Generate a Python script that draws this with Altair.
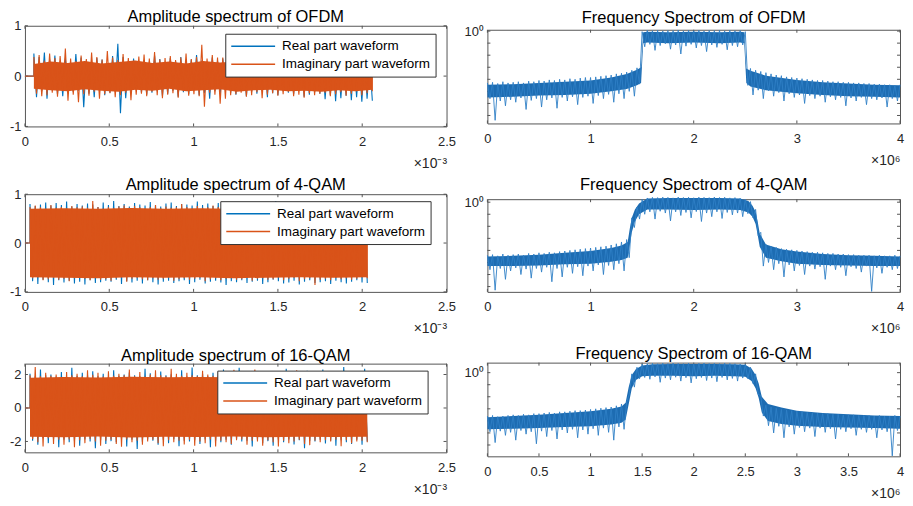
import numpy as np
import pandas as pd
import altair as alt

FONT = "Liberation Sans"
BLUE = "#0072BD"
ORANGE = "#D95319"
BAND = "#1d6cb2"
SPIKE = "#2f80c6"
FRAME = "#555555"
TXT = "#262626"
SERIES = ["Real part waveform", "Imaginary part waveform"]

# ---------------- left column: time waveforms (time in units of 1e-3 s) ----------------
T_TICKS = [0, 0.5, 1, 1.5, 2, 2.5]

ofdm_span = [0.053, 2.06]
ofdm_tail = 2.12
ofdm_real = [
    0.45, -0.42, 0.38, -0.30, 0.47, -0.45, 0.33, -0.28, 0.41, -0.36,
    0.29, -0.40, 0.35, -0.33, 0.26, -0.31, 0.44, -0.29, 0.37, -0.62,
    0.31, -0.35, 0.28, -0.42, 0.36, -0.27, 0.33, -0.38, 0.25, -0.33,
    0.40, -0.30, 0.64, -0.74, 0.38, -0.44, 0.27, -0.31, 0.35, -0.28,
    0.30, -0.33, 0.32, -0.37, 0.29, -0.33, 0.41, -0.30, 0.34, -0.39,
    0.27, -0.35, 0.36, -0.29, 0.30, -0.41, 0.38, -0.32, 0.28, -0.36,
    0.33, -0.27, 0.42, -0.38, 0.31, -0.34, 0.26, -0.45, 0.37, -0.30,
    0.30, -0.36, 0.35, -0.28, 0.29, -0.33, 0.39, -0.37, 0.32, -0.29,
    0.28, -0.40, 0.34, -0.31, 0.37, -0.35, 0.30, -0.29, 0.33, -0.42,
    0.36, -0.34, 0.29, -0.38, 0.31, -0.30, 0.43, -0.33, 0.27, -0.36,
    0.32, -0.29, 0.35, -0.41, 0.30, -0.37, 0.28, -0.32, 0.38, -0.35,
    0.34, -0.46, 0.29, -0.38, 0.36, -0.50, 0.31, -0.44, 0.30, -0.39,
    0.35, -0.48, 0.33, -0.42, 0.29, -0.51, 0.37, -0.45, 0.32, -0.49,
]
ofdm_imag = [
    0.38, -0.35, 0.42, -0.40, 0.31, -0.38, 0.45, -0.33, 0.36, -0.41,
    0.40, -0.30, 0.55, -0.49, 0.35, -0.37, 0.30, -0.52, 0.41, -0.36,
    0.34, -0.39, 0.47, -0.31, 0.38, -0.45, 0.33, -0.36, 0.50, -0.34,
    0.37, -0.42, 0.32, -0.38, 0.44, -0.33, 0.36, -0.48, 0.31, -0.37,
    0.39, -0.35, 0.43, -0.40, 0.35, -0.31, 0.48, -0.38, 0.33, -0.44,
    0.36, -0.37, 0.40, -0.34, 0.32, -0.43, 0.37, -0.30, 0.45, -0.39,
    0.34, -0.36, 0.38, -0.40, 0.62, -0.61, 0.35, -0.33, 0.42, -0.37,
    0.37, -0.55, 0.37, -0.45, 0.52, -0.38, 0.34, -0.36, 0.40, -0.33,
    0.35, -0.41, 0.33, -0.38, 0.39, -0.32, 0.36, -0.44, 0.31, -0.37,
    0.38, -0.34, 0.42, -0.39, 0.33, -0.36, 0.37, -0.31, 0.35, -0.40,
    0.32, -0.37, 0.36, -0.43, 0.39, -0.34, 0.31, -0.38, 0.34, -0.35,
    0.37, -0.33, 0.30, -0.40, 0.35, -0.36, 0.38, -0.32, 0.33, -0.39,
    0.31, -0.35, 0.36, -0.30, 0.34, -0.38, 0.30, -0.34, 0.32, -0.30,
]
ofdm_core_hi = [0.24, 0.29, 0.26, 0.30, 0.25, 0.28, 0.31, 0.26, 0.29, 0.25, 0.30, 0.27, 0.29, 0.25, 0.28, 0.26, 0.30, 0.27, 0.25, 0.28, 0.24]
ofdm_core_lo = [-0.25, -0.28, -0.30, -0.26, -0.29, -0.31, -0.27, -0.29, -0.25, -0.30, -0.28, -0.26, -0.31, -0.28, -0.27, -0.30, -0.29, -0.31, -0.28, -0.30, -0.27]

qam4_span = [0.03, 2.03]
qam4_tail = 2.05
qam4_real = [
    0.80, -0.78, 0.76, -0.84, 0.79, -0.75, 0.83, -0.80, 0.77, -0.86,
    0.82, -0.76, 0.78, -0.81, 0.85, -0.77, 0.75, -0.83, 0.80, -0.79,
    0.77, -0.85, 0.81, -0.76, 0.79, -0.82, 0.74, -0.80, 0.83, -0.77,
    0.78, -0.79, 0.86, -0.75, 0.76, -0.84, 0.80, -0.78, 0.75, -0.81,
    0.82, -0.77, 0.79, -0.83, 0.77, -0.76, 0.84, -0.80, 0.78, -0.85,
    0.75, -0.79, 0.81, -0.77, 0.83, -0.82, 0.76, -0.78, 0.80, -0.76,
    0.79, -0.84, 0.77, -0.80, 0.85, -0.75, 0.78, -0.83, 0.81, -0.79,
    0.76, -0.77, 0.82, -0.81, 0.79, -0.86, 0.75, -0.78, 0.84, -0.80,
    0.80, -0.76, 0.77, -0.82, 0.78, -0.79, 0.83, -0.77, 0.76, -0.84,
    0.81, -0.80, 0.79, -0.75, 0.86, -0.78, 0.77, -0.83, 0.80, -0.81,
    0.78, -0.77, 0.75, -0.85, 0.82, -0.79, 0.80, -0.76, 0.77, -0.82,
    0.83, -0.80, 0.79, -0.78, 0.76, -0.84, 0.81, -0.77, 0.78, -0.80,
    0.77, -0.83, 0.80, -0.79, 0.84, -0.76, 0.78, -0.81, 0.79, -0.82,
]
qam4_imag = [
    0.74, -0.72, 0.77, -0.70, 0.73, -0.76, 0.70, -0.74, 0.78, -0.71,
    0.72, -0.75, 0.74, -0.73, 0.71, -0.78, 0.76, -0.72, 0.73, -0.70,
    0.75, -0.73, 0.72, -0.76, 0.86, -0.71, 0.74, -0.75, 0.70, -0.74,
    0.73, -0.77, 0.71, -0.72, 0.75, -0.70, 0.77, -0.79, 0.72, -0.73,
    0.76, -0.71, 0.73, -0.74, 0.70, -0.76, 0.74, -0.72, 0.78, -0.75,
    0.71, -0.73, 0.75, -0.70, 0.72, -0.77, 0.73, -0.74, 0.80, -0.72,
    0.74, -0.75, 0.70, -0.73, 0.76, -0.71, 0.72, -0.78, 0.73, -0.74,
    0.77, -0.72, 0.74, -0.76, 0.71, -0.73, 0.75, -0.70, 0.72, -0.75,
    0.73, -0.74, 0.78, -0.71, 0.74, -0.77, 0.70, -0.73, 0.76, -0.72,
    0.72, -0.75, 0.71, -0.74, 0.73, -0.70, 0.75, -0.76, 0.74, -0.73,
    0.76, -0.71, 0.73, -0.78, 0.70, -0.74, 0.77, -0.72, 0.84, -0.86,
    0.71, -0.75, 0.74, -0.73, 0.72, -0.76, 0.75, -0.71, 0.73, -0.74,
    0.74, -0.72, 0.71, -0.75, 0.76, -0.73, 0.72, -0.70, 0.75, -0.72,
]
qam4_core_hi = [0.70, 0.71, 0.70, 0.72, 0.70, 0.71, 0.70, 0.71, 0.72, 0.70, 0.70]
qam4_core_lo = [-0.70, -0.71, -0.72, -0.70, -0.71, -0.70, -0.72, -0.71, -0.70, -0.71, -0.70]

qam16_span = [0.03, 2.03]
qam16_real = [
    2.05, -1.95, 1.90, -2.20, 2.30, -1.80, 1.95, -2.10, 2.00, -1.85,
    1.88, -2.35, 2.15, -1.90, 1.85, -2.05, 2.40, -1.95, 1.92, -2.25,
    2.10, -1.88, 1.95, -2.00, 2.20, -2.40, 1.90, -1.92, 2.05, -2.15,
    1.87, -1.98, 2.25, -2.05, 1.93, -1.85, 2.00, -2.30, 2.12, -1.90,
    1.95, -2.45, 1.90, -2.02, 2.35, -1.88, 2.08, -1.95, 1.92, -2.20,
    2.18, -1.90, 1.96, -2.10, 2.02, -1.86, 1.90, -2.28, 2.25, -1.95,
    1.88, -2.00, 2.42, -1.92, 1.95, -2.15, 2.05, -1.88, 1.90, -2.35,
    2.10, -1.95, 1.93, -2.05, 2.30, -1.90, 1.98, -2.20, 1.92, -1.87,
    2.40, -2.00, 1.90, -1.95, 2.05, -2.30, 1.95, -1.90, 2.20, -2.10,
    1.88, -1.98, 2.15, -2.25, 1.92, -1.90, 2.00, -2.05, 2.35, -1.88,
    1.95, -2.18, 2.08, -1.93, 1.90, -2.40, 2.22, -1.95, 1.97, -2.00,
    2.02, -1.90, 2.30, -2.12, 1.88, -1.96, 2.10, -2.25, 1.94, -1.92,
    2.45, -2.05, 1.95, -2.15, 2.05, -1.90, 1.92, -2.20, 2.35, -2.00,
]
qam16_imag = [
    1.95, -1.85, 2.45, -2.05, 1.90, -2.30, 2.10, -1.80, 1.92, -2.15,
    2.00, -1.90, 1.85, -2.20, 2.15, -1.88, 1.95, -2.35, 2.05, -1.92,
    1.90, -2.10, 2.25, -1.85, 1.98, -2.00, 2.10, -2.25, 1.88, -1.95,
    2.20, -1.90, 1.92, -2.15, 2.05, -2.32, 1.95, -1.88, 2.30, -2.05,
    1.90, -1.95, 2.15, -2.20, 1.88, -2.00, 2.00, -1.90, 2.25, -2.10,
    1.95, -2.28, 1.90, -1.92, 2.35, -2.05, 2.05, -1.95, 1.92, -2.18,
    2.10, -1.90, 1.95, -2.25, 1.90, -2.00, 2.22, -2.10, 2.00, -1.88,
    1.92, -2.30, 2.15, -1.95, 1.98, -2.05, 1.90, -2.15, 2.28, -1.92,
    2.02, -1.88, 2.00, -2.20, 1.93, -1.95, 2.30, -2.00, 1.90, -2.25,
    2.20, -1.92, 1.95, -2.05, 2.08, -2.30, 1.90, -1.95, 2.00, -2.10,
    1.92, -2.00, 2.25, -1.90, 2.05, -2.15, 1.95, -2.22, 1.90, -1.95,
    2.10, -2.05, 1.93, -1.92, 2.20, -2.00, 2.00, -1.90, 2.15, -2.28,
    1.95, -1.92, 2.05, -2.10, 1.90, -2.00, 2.18, -1.95, 1.92, -2.05,
]
qam16_core_hi = [1.80, 1.85, 1.82, 1.86, 1.83, 1.85, 1.84, 1.86, 1.82, 1.85, 1.80]
qam16_core_lo = [-1.72, -1.75, -1.70, -1.76, -1.72, -1.74, -1.71, -1.75, -1.72, -1.74, -1.72]

# ---------------- right column: spectra (frequency in units of 1e6 Hz, magnitude as log10) ----------------
ofdm_env_f = [0.0, 0.25, 0.5, 0.75, 1.0, 1.2, 1.35, 1.45, 1.49, 1.51, 1.55, 1.75,
              2.0, 2.25, 2.45, 2.49, 2.51, 2.55, 2.7, 3.0, 3.25, 3.5, 3.75, 4.0]
ofdm_env_hi = [-4.45, -4.4, -4.3, -4.2, -4.1, -3.85, -3.55, -3.2, -3.0, -0.1, -0.05, -0.1,
               -0.05, -0.1, -0.05, -0.1, -3.1, -3.3, -3.7, -4.05, -4.25, -4.35, -4.45, -4.5]
ofdm_env_lo = [-5.5, -5.45, -5.35, -5.3, -5.2, -5.0, -4.8, -4.5, -4.3, -1.0, -0.95, -1.0,
               -0.95, -1.0, -0.95, -1.0, -4.3, -4.6, -4.9, -5.15, -5.3, -5.4, -5.45, -5.5]
ofdm_spec = [
    -4.30, -5.60, -4.25, -7.40, -4.35, -5.80, -4.20, -6.20, -4.30, -5.70,
    -4.25, -5.90, -4.20, -5.55, -4.30, -6.50, -4.15, -5.75, -4.20, -5.60,
    -4.10, -6.30, -4.15, -5.70, -4.05, -5.55, -4.10, -6.40, -4.00, -5.50,
    -4.05, -5.80, -3.95, -5.45, -4.00, -6.10, -3.90, -5.50, -3.85, -5.40,
    -3.85, -6.00, -3.80, -5.35, -3.75, -5.60, -3.70, -5.25, -3.65, -5.90,
    -3.55, -5.20, -3.50, -5.60, -3.40, -5.00, -3.25, -5.40, -3.05, -4.40,
    -0.05, -1.30, 0.05, -1.10, 0.02, -1.60, 0.06, -1.20, 0.00, -1.05,
    0.04, -1.50, 0.03, -1.15, 0.07, -1.90, 0.01, -1.25, 0.05, -1.10,
    0.02, -1.40, 0.06, -1.20, 0.00, -1.70, 0.04, -1.15, 0.03, -1.35,
    0.05, -1.10, 0.01, -1.55, 0.06, -1.20, 0.02, -1.30, 0.04, -1.15, -0.05,
    -4.50, -3.10, -5.30, -3.25, -4.90, -3.35, -5.60, -3.45, -4.95, -3.55,
    -5.40, -3.65, -5.10, -3.70, -5.80, -3.80, -5.20, -3.85, -5.50, -3.90,
    -5.30, -3.95, -6.00, -4.00, -5.35, -4.05, -5.60, -4.10, -5.40, -4.10,
    -5.90, -4.15, -5.45, -4.20, -5.70, -4.20, -5.50, -4.25, -6.20, -4.25,
    -5.55, -4.30, -5.80, -4.30, -5.50, -4.35, -6.10, -4.35, -5.60, -4.40,
    -5.70, -4.40, -5.55, -4.45, -6.30, -4.45, -5.60, -4.50, -5.80, -4.45,
]

qam4_env_f = [0.0, 0.25, 0.5, 0.75, 1.0, 1.2, 1.3, 1.36, 1.38, 1.40, 1.43, 1.47, 1.55, 1.75, 2.0,
              2.25, 2.45, 2.53, 2.57, 2.60, 2.62, 2.64, 2.70, 2.85, 3.0, 3.25, 3.5, 3.75, 4.0]
qam4_env_hi = [-4.5, -4.45, -4.35, -4.2, -4.05, -3.8, -3.6, -3.3, -2.2, -1.3, -0.6, -0.1, 0.3, 0.35, 0.35,
               0.35, 0.3, 0.1, -0.3, -0.8, -1.6, -2.6, -3.5, -3.9, -4.1, -4.3, -4.4, -4.45, -4.5]
qam4_env_lo = [-5.3, -5.3, -5.25, -5.15, -5.1, -4.95, -4.8, -4.6, -3.6, -2.5, -1.6, -1.0, -0.6, -0.6, -0.65,
               -0.6, -0.65, -0.85, -1.2, -1.8, -2.7, -3.7, -4.6, -4.9, -5.1, -5.2, -5.25, -5.3, -5.3]
qam4_spec = [
    -4.40, -5.60, -4.35, -7.30, -4.45, -5.50, -4.30, -6.40, -4.40, -5.70,
    -4.35, -5.45, -4.30, -6.00, -4.40, -5.55, -4.25, -6.30, -4.30, -5.50,
    -4.20, -5.80, -4.25, -5.40, -4.15, -6.60, -4.20, -5.50, -4.10, -6.20,
    -4.05, -5.40, -4.00, -5.90, -3.95, -5.35, -3.90, -6.10, -3.85, -5.30,
    -3.80, -5.70, -3.75, -5.20, -3.70, -6.00, -3.65, -5.25, -3.55, -5.60,
    -3.45, -5.10, -3.30, -5.70, -3.10, -4.60, -1.30, -2.10, -0.40, -1.40,
    0.25, -1.00, 0.35, -0.80, 0.40, -1.40, 0.38, -0.75, 0.42, -0.90,
    0.40, -1.55, 0.36, -0.80, 0.43, -1.10, 0.39, -0.85, 0.41, -1.30,
    0.37, -0.78, 0.42, -1.60, 0.40, -0.90, 0.38, -1.20, 0.43, -0.80,
    0.39, -1.35, 0.41, -0.85, 0.36, -1.05, 0.38, -0.90, 0.33, -1.20,
    0.25, -0.95, 0.05, -1.30, -0.60, -2.80, -2.50, -5.30, -3.50, -5.00,
    -3.65, -5.60, -3.75, -5.10, -3.85, -6.20, -3.90, -5.20, -3.95, -5.70,
    -4.00, -5.25, -4.05, -6.00, -4.10, -5.30, -4.15, -5.55, -4.15, -5.35,
    -4.20, -6.40, -4.25, -5.30, -4.25, -5.60, -4.30, -5.40, -4.30, -6.10,
    -4.35, -5.35, -4.35, -5.50, -4.40, -5.80, -4.40, -5.30, -4.40, -7.40,
    -4.45, -5.45, -4.40, -5.90, -4.45, -5.40, -4.45, -5.60, -4.40, -5.50,
    -4.45,
]

qam16_env_f = [0.0, 0.25, 0.5, 0.75, 1.0, 1.2, 1.3, 1.34, 1.37, 1.40, 1.44, 1.5, 1.6, 1.8, 2.0,
               2.2, 2.4, 2.5, 2.56, 2.6, 2.63, 2.66, 2.72, 2.85, 3.0, 3.25, 3.5, 3.75, 4.0]
qam16_env_hi = [-3.7, -3.6, -3.5, -3.35, -3.2, -3.0, -2.8, -2.5, -1.2, -0.2, 0.3, 0.6, 0.7, 0.72, 0.72,
                0.72, 0.7, 0.65, 0.35, -0.2, -0.9, -2.0, -2.6, -2.9, -3.15, -3.35, -3.45, -3.55, -3.6]
qam16_env_lo = [-4.7, -4.65, -4.6, -4.5, -4.45, -4.3, -4.15, -3.9, -2.6, -1.3, -0.6, -0.3, -0.25, -0.25, -0.3,
                -0.25, -0.3, -0.35, -0.7, -1.3, -2.1, -3.3, -4.0, -4.25, -4.4, -4.5, -4.55, -4.6, -4.65]
qam16_spec = [
    -3.60, -4.90, -3.55, -5.80, -3.65, -4.85, -3.60, -5.20, -3.55, -4.95,
    -3.50, -5.60, -3.55, -4.80, -3.45, -5.10, -3.50, -4.90, -3.40, -5.90,
    -3.40, -4.85, -3.35, -5.30, -3.30, -4.80, -3.35, -5.50, -3.25, -4.75,
    -3.25, -5.00, -3.20, -4.70, -3.15, -5.40, -3.15, -4.75, -3.10, -5.10,
    -3.05, -4.65, -3.00, -5.20, -2.95, -4.60, -2.90, -4.95, -2.85, -5.60,
    -2.75, -4.50, -2.60, -4.70, -2.45, -1.80, -0.10, -1.20, 0.45, -0.50,
    0.70, -0.40, 0.75, -0.55, 0.78, -0.35, 0.74, -0.80, 0.79, -0.45,
    0.76, -0.60, 0.80, -0.38, 0.77, -0.70, 0.75, -0.42, 0.79, -0.85,
    0.74, -0.50, 0.78, -0.40, 0.80, -0.65, 0.76, -0.45, 0.78, -0.75,
    0.75, -0.40, 0.79, -0.60, 0.77, -0.48, 0.74, -0.70, 0.72, -0.45,
    0.68, -0.50, 0.45, -0.90, -0.10, -1.80, -1.90, -3.60, -2.70, -4.40,
    -2.85, -5.00, -2.95, -4.45, -3.05, -5.40, -3.10, -4.50, -3.15, -5.10,
    -3.20, -4.55, -3.25, -4.90, -3.30, -4.60, -3.35, -5.30, -3.35, -4.60,
    -3.40, -4.95, -3.40, -4.65, -3.45, -5.50, -3.45, -4.70, -3.50, -4.90,
    -3.50, -4.65, -3.50, -5.20, -3.55, -4.70, -3.55, -4.95, -3.55, -4.70,
    -3.60, -5.40, -3.55, -4.75, -3.60, -4.90, -3.60, -6.90, -3.55, -4.80,
    -3.60,
]

F_TICKS_A = [0, 1, 2, 3, 4]
F_TICKS_B = [0, 0.5, 1, 1.5, 2, 2.5, 3, 3.5, 4]
DECADES = [-7, -6, -5, -4, -3, -2, -1, 0]

TICK_LEN = 3


def axis_x(vals, exp_title):
    return alt.Axis(values=vals, labelExpr="'' + datum.value", title=exp_title, grid=False,
                    ticks=False, tickSize=0, domain=False, labelFont=FONT, labelFontSize=13,
                    labelColor=TXT, labelPadding=9, labelFlush=False, labelOverlap=False,
                    labelAlign="center",
                    titleFont=FONT, titleFontSize=14, titleFontWeight="normal", titleColor=TXT,
                    titleAnchor="end", titleAlign="right", titlePadding=8)


def axis_y(vals, expr):
    return alt.Axis(values=vals, labelExpr=expr, title=None, grid=False, ticks=False, tickSize=0,
                    domain=False, labelFont=FONT, labelFontSize=13, labelColor=TXT, labelPadding=4,
                    labelFlush=False, labelOverlap=False)


def ptitle(text, off):
    return alt.TitleParams(text=text, font=FONT, fontSize=16.5, fontWeight="normal", color="#000000",
                           offset=off, frame="group", anchor="middle")


def inward_ticks(xfield, xvals, yfield, yvals, X, Y, w, h):
    dx = pd.DataFrame({xfield: xvals})
    dy = pd.DataFrame({yfield: yvals})
    rx = alt.Chart(dx).mark_rule(color=FRAME, strokeWidth=1)
    ry = alt.Chart(dy).mark_rule(color=FRAME, strokeWidth=1)
    return [
        rx.encode(x=X, y=alt.value(h - TICK_LEN), y2=alt.value(h)),
        rx.encode(x=X, y=alt.value(0), y2=alt.value(TICK_LEN)),
        ry.encode(y=Y, x=alt.value(0), x2=alt.value(TICK_LEN)),
        ry.encode(y=Y, x=alt.value(w - TICK_LEN), x2=alt.value(w)),
    ]


def wave_frame(vals, span, name, tail_end=None):
    t0, t1 = span
    ts = [0.0, t0] + list(np.linspace(t0, t1, len(vals)))
    vs = [0.0, 0.0] + list(vals)
    if tail_end is not None:
        ts += [t1, tail_end]
        vs += [0.0, 0.0]
    return pd.DataFrame({"t": ts, "v": vs, "s": name, "i": range(len(ts))})


def left_panel(title, real, imag, span, tail_end, core_hi, core_lo, ydom, yticks, w, h, lx, ly, toff):
    d_real = wave_frame(real, span, SERIES[0])
    d_imag = wave_frame(imag, span, SERIES[1], tail_end)
    d_core = pd.DataFrame({"t": np.linspace(span[0], span[1], len(core_hi)), "v": core_hi, "v2": core_lo})
    X = alt.X("t:Q", scale=alt.Scale(domain=[0, 2.5], nice=False, zero=False), axis=axis_x(T_TICKS, "×10⁻³"))
    Y = alt.Y("v:Q", scale=alt.Scale(domain=ydom, nice=False, zero=False), axis=axis_y(yticks, "'' + datum.value"))
    leg = alt.Legend(title=None, orient="none", legendX=lx, legendY=ly, direction="vertical",
                     symbolType="stroke", symbolSize=1936, symbolStrokeWidth=1.5, clipHeight=15,
                     labelFont=FONT, labelFontSize=13.5, labelColor="#000000", labelOffset=6,
                     fillColor="white", strokeColor="#333333", padding=5, rowPadding=3, cornerRadius=0)
    col = alt.Color("s:N", scale=alt.Scale(domain=SERIES, range=[BLUE, ORANGE]), legend=leg)
    blue = alt.Chart(d_real).mark_line(strokeWidth=1.1).encode(x=X, y=Y, color=col, order="i:Q")
    core = alt.Chart(d_core).mark_area(color=ORANGE).encode(x=X, y=Y, y2="v2:Q")
    orange = alt.Chart(d_imag).mark_line(strokeWidth=1.1).encode(x=X, y=Y, color=col, order="i:Q")
    ticks = inward_ticks("t", T_TICKS, "v", yticks, X, Y, w, h)
    return alt.layer(*ticks, blue, core, orange).properties(width=w, height=h, title=ptitle(title, toff))


def right_panel(title, env_f, env_hi, env_lo, spec, yexp, xticks, w, h, toff):
    d_env = pd.DataFrame({"f": env_f, "y": 10.0 ** np.array(env_hi), "y2": 10.0 ** np.array(env_lo)})
    d_sp = pd.DataFrame({"f": np.linspace(0, 4, len(spec)), "y": 10.0 ** np.array(spec), "i": range(len(spec))})
    X = alt.X("f:Q", scale=alt.Scale(domain=[0, 4], nice=False, zero=False), axis=axis_x(xticks, "×10⁶"))
    Y = alt.Y("y:Q", scale=alt.Scale(type="log", domain=[10.0 ** yexp[0], 10.0 ** yexp[1]], nice=False),
              axis=axis_y([1], "'10⁰'"))
    band = alt.Chart(d_env).mark_area(color=BAND).encode(x=X, y=Y, y2="y2:Q")
    line = alt.Chart(d_sp).mark_line(color=SPIKE, strokeWidth=0.9).encode(x=X, y=Y, order="i:Q")
    dec = [10.0 ** k for k in DECADES if yexp[0] < k < yexp[1]]
    ticks = inward_ticks("f", xticks, "y", dec, X, Y, w, h)
    return alt.layer(*ticks, band, line).properties(width=w, height=h, title=ptitle(title, toff))


LW = 423
RW = 414

p1 = left_panel("Amplitude spectrum of OFDM", ofdm_real, ofdm_imag, ofdm_span, ofdm_tail,
                ofdm_core_hi, ofdm_core_lo, [-1, 1], [-1, 0, 1], LW, 101, 201, 8, -6)
p3 = left_panel("Amplitude spectrum of 4-QAM", qam4_real, qam4_imag, qam4_span, qam4_tail,
                qam4_core_hi, qam4_core_lo, [-1, 1], [-1, 0, 1], LW, 98, 196, 7, -5)
p5 = left_panel("Amplitude spectrum of 16-QAM", qam16_real, qam16_imag, qam16_span, None,
                qam16_core_hi, qam16_core_lo, [-2.65, 2.65], [-2, 0, 2], LW, 89, 193, 7, -1)

p2 = right_panel("Frequency Spectrom of OFDM", ofdm_env_f, ofdm_env_hi, ofdm_env_lo, ofdm_spec,
                 [-7.66, 0.11], F_TICKS_A, RW, 94, -1)
p4 = right_panel("Frequency Spectrom of 4-QAM", qam4_env_f, qam4_env_hi, qam4_env_lo, qam4_spec,
                 [-7.44, 0.25], F_TICKS_A, RW, 93, 2)
p6 = right_panel("Frequency Spectrom of 16-QAM", qam16_env_f, qam16_env_hi, qam16_env_lo, qam16_spec,
                 [-6.94, 0.83], F_TICKS_B, RW, 94, -1)

spacer = alt.Chart(pd.DataFrame({"z": [0]})).mark_point(opacity=0).encode(
    x=alt.X("z:Q", axis=None), y=alt.Y("z:Q", axis=None)
).properties(width=RW, height=1, view=alt.ViewBackground(stroke="transparent"))


def vc(a, b, sp):
    return alt.vconcat(a, b, spacing=sp, bounds="flush").resolve_scale(
        color="independent").resolve_legend(color="independent")


left_col = vc(p1, vc(p3, p5, 72), 68)
right_col = vc(spacer, vc(p2, vc(p4, p6, 71), 76), 3)

chart = alt.hconcat(left_col, right_col, spacing=7).resolve_scale(
    color="independent").resolve_legend(color="independent").properties(
    padding={"top": 0, "left": 0, "right": 0, "bottom": 0}, background="white"
).configure_view(stroke=FRAME, strokeWidth=1).configure_axisX(labelFlush=False)

chart.save("out.html", embed_options={"renderer": "svg", "actions": False})
